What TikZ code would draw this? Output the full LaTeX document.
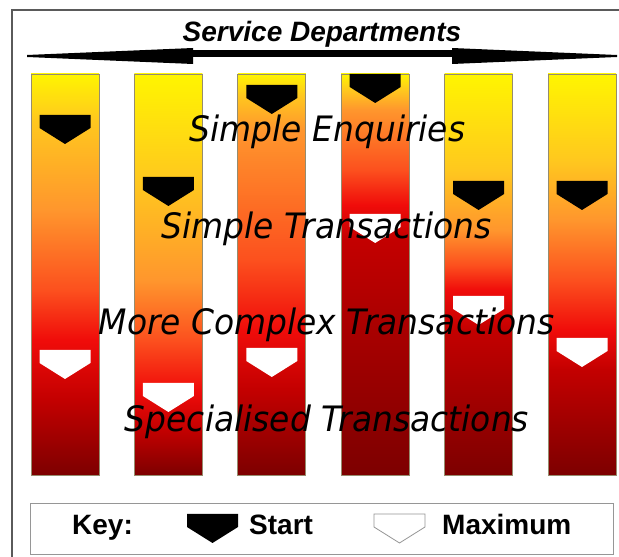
\documentclass[tikz,border=0pt]{standalone}
\usepackage{fontspec}
\newfontfamily\headfont{Liberation Sans}
\newfontfamily\labfont[FakeStretch=0.94]{DejaVu Sans}

\definecolor{gYel}{RGB}{255,245,0}
\definecolor{gAmb}{RGB}{255,200,30}
\definecolor{gOrng}{RGB}{255,150,45}
\definecolor{gOrRd}{RGB}{252,80,30}
\definecolor{gRed}{RGB}{240,12,10}
\definecolor{gDRed}{RGB}{195,0,0}
\definecolor{gMar}{RGB}{125,0,0}
\definecolor{barline}{RGB}{150,140,110}
\definecolor{frameline}{RGB}{90,90,90}
\definecolor{keyline}{RGB}{150,150,150}

% one vertical colour ramp per department column (0bp = bottom, 25..75bp = column)
\pgfdeclareverticalshading{barA}{100bp}{color(0bp)=(gMar); color(25bp)=(gMar); color(34.35bp)=(gDRed); color(41.83bp)=(gRed); color(48.07bp)=(gOrRd); color(58.04bp)=(gOrng); color(69.26bp)=(gAmb); color(75bp)=(gYel); color(100bp)=(gYel)}
\pgfdeclareverticalshading{barB}{100bp}{color(0bp)=(gMar); color(25bp)=(gMar); color(30.61bp)=(gDRed); color(35.60bp)=(gRed); color(41.83bp)=(gOrRd); color(49.31bp)=(gOrng); color(61.78bp)=(gAmb); color(75bp)=(gYel); color(100bp)=(gYel)}
\pgfdeclareverticalshading{barC}{100bp}{color(0bp)=(gMar); color(25bp)=(gMar); color(35.60bp)=(gDRed); color(43.08bp)=(gRed); color(51.81bp)=(gOrRd); color(68.02bp)=(gOrng); color(72.38bp)=(gAmb); color(75bp)=(gYel); color(100bp)=(gYel)}
\pgfdeclareverticalshading{barD}{100bp}{color(0bp)=(gMar); color(25bp)=(gMar); color(54.30bp)=(gDRed); color(58.67bp)=(gRed); color(63.03bp)=(gOrRd); color(70.51bp)=(gOrng); color(73.01bp)=(gAmb); color(75bp)=(gYel); color(100bp)=(gYel)}
\pgfdeclareverticalshading{barE}{100bp}{color(0bp)=(gMar); color(25bp)=(gMar); color(43.08bp)=(gDRed); color(48.07bp)=(gRed); color(51.18bp)=(gOrRd); color(55.55bp)=(gOrng); color(63.03bp)=(gAmb); color(75bp)=(gYel); color(100bp)=(gYel)}
\pgfdeclareverticalshading{barF}{100bp}{color(0bp)=(gMar); color(25bp)=(gMar); color(38.09bp)=(gDRed); color(43.08bp)=(gRed); color(49.31bp)=(gOrRd); color(56.80bp)=(gOrng); color(64.28bp)=(gAmb); color(75bp)=(gYel); color(100bp)=(gYel)}

\tikzset{
  column/.style={shade, draw=barline, line width=0.8pt, minimum width=68pt,
    minimum height=401pt, inner sep=0pt},
  mk/.pic={\path[pic actions] (-25.5,0) -- (25.5,0) -- (25.5,-13) -- (0,-29)
    -- (-25.5,-13) -- cycle;},
  startmk/.style={fill=black},
  maxmk/.style={fill=white},
  biglab/.style={font=\labfont\itshape\fontsize{35}{38}\selectfont, anchor=base,
    inner sep=0pt},
  keytxt/.style={font=\headfont\bfseries\fontsize{28}{30}\selectfont,
    anchor=base west, inner sep=0pt},
}

\begin{document}
\begin{tikzpicture}[x=1pt,y=1pt]
\useasboundingbox (0,0) rectangle (619,557);
\fill[white] (0,0) rectangle (619,557);

% outer frame (runs off the right and bottom edges)
\draw[frameline, line width=1.3pt] (619,547) -- (12,547) -- (12,0);

% heading and its double arrow
\node[font=\headfont\bfseries\itshape\fontsize{28}{30}\selectfont, anchor=base,
  inner sep=0pt] (title) at (322,515) {Service Departments};
\coordinate (arrL) at (27,501);
\coordinate (arrR) at (617,501);
\fill (27,502) -- (193,509) -- (193,493) -- (27,500) -- cycle;
\fill (193,500) rectangle (452,507);
\fill (452,509) -- (617,502) -- (617,500) -- (452,493) -- cycle;

% department columns
\node[column, shading=barA] (b1) at (65,282.5) {};
\node[column, shading=barB] (b2) at (168.4,282.5) {};
\node[column, shading=barC] (b3) at (271.8,282.5) {};
\node[column, shading=barD] (b4) at (375.2,282.5) {};
\node[column, shading=barE] (b5) at (478.6,282.5) {};
\node[column, shading=barF] (b6) at (582,282.5) {};

% start and maximum markers
\pic[startmk] at (65,442) {mk};
\pic[maxmk]   at (65,207) {mk};
\pic[startmk] at (168.4,380) {mk};
\pic[maxmk]   at (168.4,174) {mk};
\pic[startmk] at (271.8,472) {mk};
\pic[maxmk]   at (271.8,209) {mk};
\pic[startmk] at (375.2,483) {mk};
\pic[maxmk]   at (375.2,343) {mk};
\pic[startmk] at (478.6,376) {mk};
\pic[maxmk]   at (478.6,261) {mk};
\pic[startmk] at (582,376) {mk};
\pic[maxmk]   at (582,219) {mk};

% transaction levels
\node[biglab] (l1) at (327.5,415) {Simple Enquiries};
\node[biglab] (l2) at (326.5,318) {Simple Transactions};
\node[biglab] (l3) at (326.5,222) {More Complex Transactions};
\node[biglab] (l4) at (327,125) {Specialised Transactions};

% key
\node[draw=keyline, line width=1pt, minimum width=583pt, minimum height=51pt,
  inner sep=0pt] (key) at (321.5,27.5) {};
\node[keytxt] (kkey) at (72,22) {Key:};
\pic[startmk] at (212.5,43) {mk};
\node[keytxt] (kstart) at (249,22) {Start};
\pic[maxmk, draw=keyline, line width=0.8pt] at (399.5,43) {mk};
\node[keytxt] (kmax) at (442,22) {Maximum};
\end{tikzpicture}
\end{document}
